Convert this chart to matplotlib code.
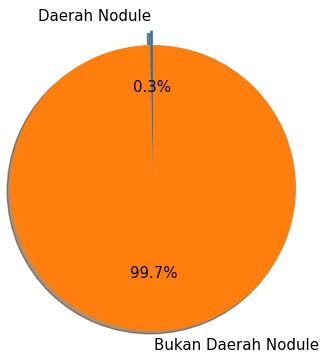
import matplotlib
matplotlib.use("Agg")
import matplotlib.pyplot as plt

labels = ["Daerah Nodule", "Bukan Daerah Nodule"]
sizes = [0.3, 99.7]
explode = [0.1, 0]

fig = plt.figure(figsize=(3.2, 3.56), dpi=100)
ax = fig.add_axes([0, 0, 1, 1])
# small offset shadow under the pie
ax.pie(sizes, labels=labels, explode=explode, autopct="%1.1f%%",
       shadow={"ox": -0.014, "oy": -0.014}, startangle=90,
       textprops={"fontsize": 10.8})
ax.set_aspect("auto")
ax.set_xlim(-1.07, 1.168)
ax.set_ylim(-1.175, 1.315)
fig.savefig("out.png", dpi=100)
